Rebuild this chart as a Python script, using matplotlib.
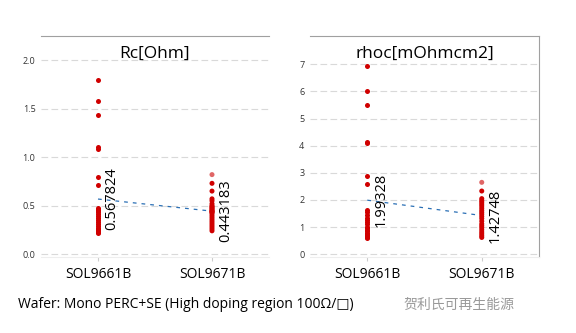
import matplotlib.pyplot as plt
import numpy as np

plt.rcParams['font.family'] = ['Open Sans', 'DejaVu Sans']

groups = ["SOL9661B", "SOL9671B"]

rc_9661 = [1.80, 1.58, 1.44, 1.11, 1.085, 0.80, 0.71, 0.48, 0.46, 0.45, 0.43,
           0.41, 0.39, 0.37, 0.35, 0.33, 0.31, 0.29, 0.27, 0.26, 0.25, 0.24,
           0.23, 0.23, 0.22]
rc_9671 = [0.82, 0.73, 0.65, 0.57, 0.55, 0.52, 0.50, 0.49, 0.48, 0.47, 0.46,
           0.45, 0.44, 0.44, 0.43, 0.42, 0.40, 0.38, 0.36, 0.34, 0.32, 0.30,
           0.28, 0.26, 0.24]
rc_means = [0.567824, 0.443183]

rho_9661 = [6.93, 6.02, 5.49, 4.15, 4.09, 2.90, 2.58, 1.62, 1.55, 1.45, 1.35,
            1.28, 1.20, 1.10, 1.00, 0.95, 0.90, 0.85, 0.80, 0.75, 0.70, 0.68,
            0.65, 0.62, 0.60]
rho_9671 = [2.65, 2.33, 2.05, 1.98, 1.92, 1.85, 1.78, 1.70, 1.62, 1.55, 1.48,
            1.40, 1.32, 1.22, 1.12, 1.05, 0.98, 0.90, 0.82, 0.75, 0.68, 0.62]
rho_means = [1.99328, 1.42748]

red = "#d00000"

fig = plt.figure(figsize=(5.76, 3.33), dpi=100)
ax1 = fig.add_axes([41/576, 1-257/333, 228/576, 221/333])
ax2 = fig.add_axes([310/576, 1-257/333, 229/576, 221/333])


def panel(ax, a, b, means, title, ylim, yticks, fmt):
    ax.scatter(np.zeros(len(a)), a, s=13, color=red, zorder=3, linewidths=0)
    cols = [red] * len(b)
    cols[0] = "#e06666"
    ax.scatter(np.ones(len(b)), b, s=13, color=cols, zorder=3, linewidths=0)
    ax.plot([0, 1], means, color="#2a6fb5", lw=0.9, ls=(0, (3, 4)), zorder=2)
    for i, m in enumerate(means):
        ax.text(i + 0.12, m, str(m), rotation=90, ha="center", va="center",
                fontsize=10.5, color="black", zorder=4)
    ax.set_xlim(-0.5, 1.5)
    ax.set_ylim(*ylim)
    ax.set_yticks(yticks)
    ax.set_yticklabels([fmt.format(v) for v in yticks], fontsize=6.5, color="#333333")
    ax.set_xticks([0, 1])
    ax.set_xticklabels(groups, fontsize=10)
    ax.tick_params(axis="y", length=0, pad=4)
    ax.tick_params(axis="x", length=3, color="#cccccc", pad=4)
    ax.grid(axis="y", color="#d9d9d9", ls=(0, (6, 3)), lw=0.8)
    ax.set_axisbelow(True)
    for s in ax.spines.values():
        s.set_visible(False)
    ax.spines["top"].set_visible(True)
    ax.spines["top"].set_color("#a0a0a0")
    ax.spines["bottom"].set_visible(True)
    ax.spines["bottom"].set_color("#eeeeee")
    ax.text(0.5, 0.955, title, transform=ax.transAxes, ha="center", va="top",
            fontsize=12.5)


panel(ax1, rc_9661, rc_9671, rc_means, "Rc[Ohm]", (-0.03, 2.25),
      [0.0, 0.5, 1.0, 1.5, 2.0], "{:.1f}")
panel(ax2, rho_9661, rho_9671, rho_means, "rhoc[mOhmcm2]", (-0.1, 8.04),
      [0, 1, 2, 3, 4, 5, 6, 7], "{:d}")
ax2.spines["right"].set_visible(True)
ax2.spines["right"].set_color("#a0a0a0")

fig.text(18/576, 1-305/333, "Wafer: Mono PERC+SE (High doping region 100Ω/□)",
         fontsize=10, va="center", ha="left")
fig.text(404/576, 1-305/333, "贺利氏可再生能源", fontsize=10, va="center",
         ha="left", color="#999999",
         family=['Noto Sans CJK SC', 'DejaVu Sans'])

fig.savefig("out.png", dpi=100)
